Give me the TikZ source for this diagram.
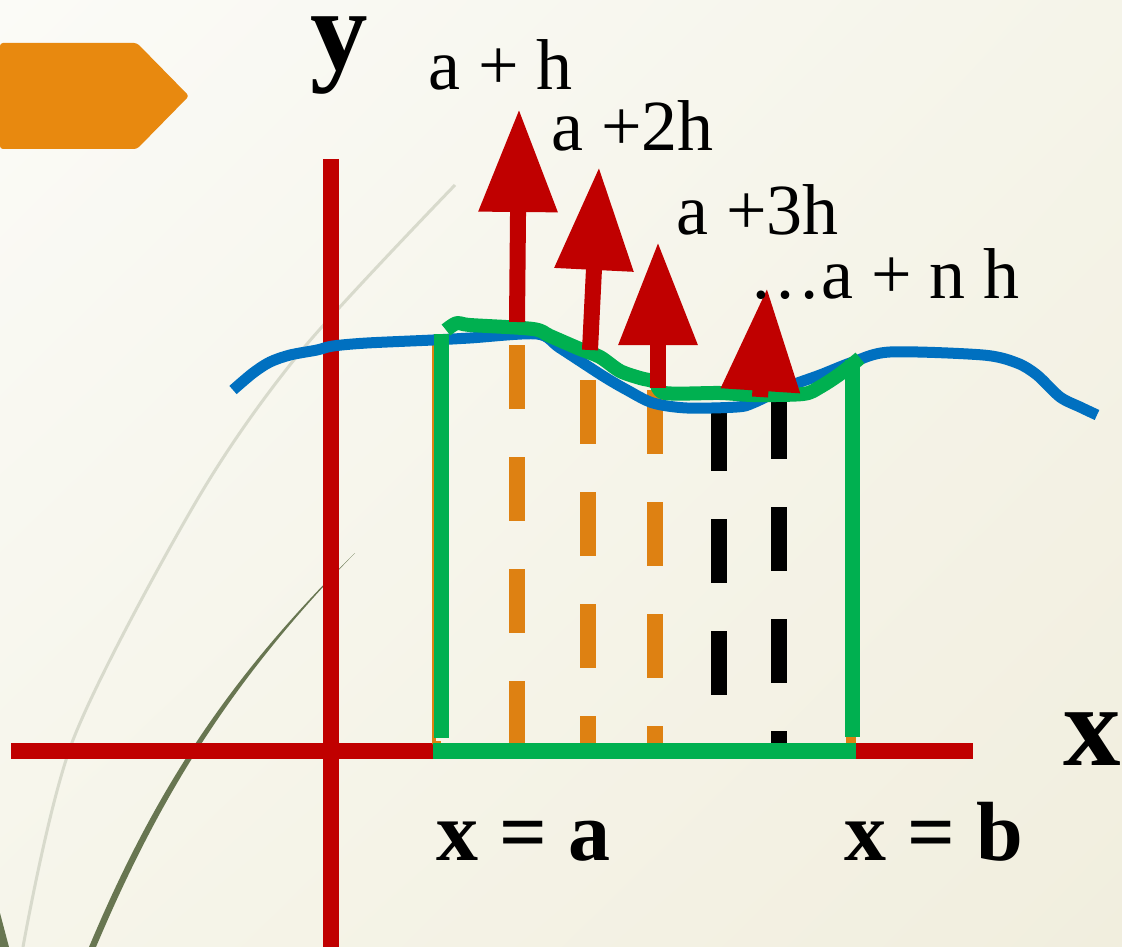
\documentclass[tikz,border=0pt]{standalone}
\usepackage{fontspec}
\setmainfont{Liberation Serif}
\usetikzlibrary{arrows.meta,shadings}
\definecolor{axred}{HTML}{C00000}
\definecolor{tabor}{HTML}{E8890F}
\definecolor{dashor}{HTML}{DE8112}
\definecolor{curveblue}{HTML}{0070C0}
\definecolor{areagreen}{HTML}{00B050}
\definecolor{arcgray}{HTML}{D8DACC}
\definecolor{arcolive}{HTML}{687651}
\definecolor{bgA}{HTML}{FBFBF7}
\definecolor{bgB}{HTML}{F5F4E9}
\definecolor{bgC}{HTML}{F6F5EA}
\definecolor{bgD}{HTML}{F1EEDE}
\begin{document}
\begin{tikzpicture}[x=1pt,y=-1pt, line join=round,
	axis/.style={draw=axred,line width=16},
	greenline/.style={draw=areagreen,line width=15},
	orangedash/.style={draw=dashor,line width=16,dash pattern=on 64 off 48},
	blackdash/.style={draw=black,line width=16,dash pattern=on 64 off 48},
	redarrow/.style={draw=axred,fill=axred,line width=16,-{Triangle[width=75pt,length=103pt]}},
	lbl/.style={inner sep=0,anchor=base west,font=\fontsize{72}{86}\selectfont},
	axlbl/.style={inner sep=0,anchor=base west,font=\fontsize{115}{130}\selectfont\bfseries},
	endlbl/.style={inner sep=0,anchor=base west,font=\fontsize{84}{100}\selectfont\bfseries}]
	\useasboundingbox (0,0) rectangle (1122,947);
	\shade[upper left=bgA, upper right=bgB, lower left=bgC, lower right=bgD] (0,0) rectangle (1122,947);
	% decor
	\draw[arcgray,line width=3] plot[smooth] coordinates {(23,947) (73,740) (197,500) (302,350) (455,185)};
	\fill[arcolive] (89,947) .. controls (152,797) and (225,680) .. (355,553)
		.. controls (229,683) and (159,798) .. (96,947) -- cycle;
	\fill[arcolive] (0,913) -- (9,947) -- (0,947) -- cycle;
	\fill[tabor, rounded corners=3] (0,43) -- (137,43) -- (189,96) -- (137,149) -- (0,149) -- cycle;
	% axes
	\draw[axis] (331,159) -- (331,947);
	\draw[axis] (11,751) -- (973,751);
	% strips
	\draw[dashor,line width=4] (434,345) -- (434,743) -- (441,743);
	\draw[dashor,line width=10] (851,362) -- (851,743);
	\foreach \x/\y in {517/345, 588/380, 655/390} \draw[orangedash] (\x,\y) -- (\x,743);
	\foreach \x/\y in {719/407, 779/395} \draw[blackdash] (\x,\y) -- (\x,743);
	% curve
	\draw[curveblue,line width=11] plot[smooth] coordinates {(233,390) (253,373) (270,362) (290,355) (317,350) (333,346) (367,343) (433,340) (470,338) (537,334) (560,348) (603,376) (627,390) (653,403) (687,408) (737,407) (753,403) (787,387) (820,375) (853,362) (890,352) (983,355) (1017,363) (1037,375) (1060,397) (1080,407) (1097,415)};
	\draw[areagreen,line width=14] plot[smooth] coordinates {(446,330) (457,323) (470,325) (533,329) (550,336) (580,349) (600,357) (620,371) (640,378) (655,382) (665,393) (720,393) (753,395) (803,394) (820,387) (840,374) (860,358)};
	\draw[greenline] (441,738) -- (441,334);
	\draw[greenline] (852,737) -- (852,360);
	\draw[areagreen,line width=16] (433,751) -- (856,751);
	% arrows
	\draw[redarrow] (517,322) -- (519,109);
	\draw[redarrow] (590,350) -- (599,167);
	\draw[redarrow] (658,388) -- (658,242);
	\draw[redarrow] (760,397) -- (767,288);
	% labels
	\node[axlbl] (ylab) at (310,70) {y};
	\node[axlbl] (xlab) at (1063,765) {x};
	\node[lbl] (h1) at (428,90) {a + h};
	\node[lbl] (h2) at (551,150) {a +2h};
	\node[lbl] (h3) at (676,234) {a +3h};
	\node[lbl] (hn) at (749,298) {…a + n h};
	\node[endlbl] (xa) at (436,860) {x = a};
	\node[endlbl] (xb) at (844,860) {x = b};
\end{tikzpicture}
\end{document}
